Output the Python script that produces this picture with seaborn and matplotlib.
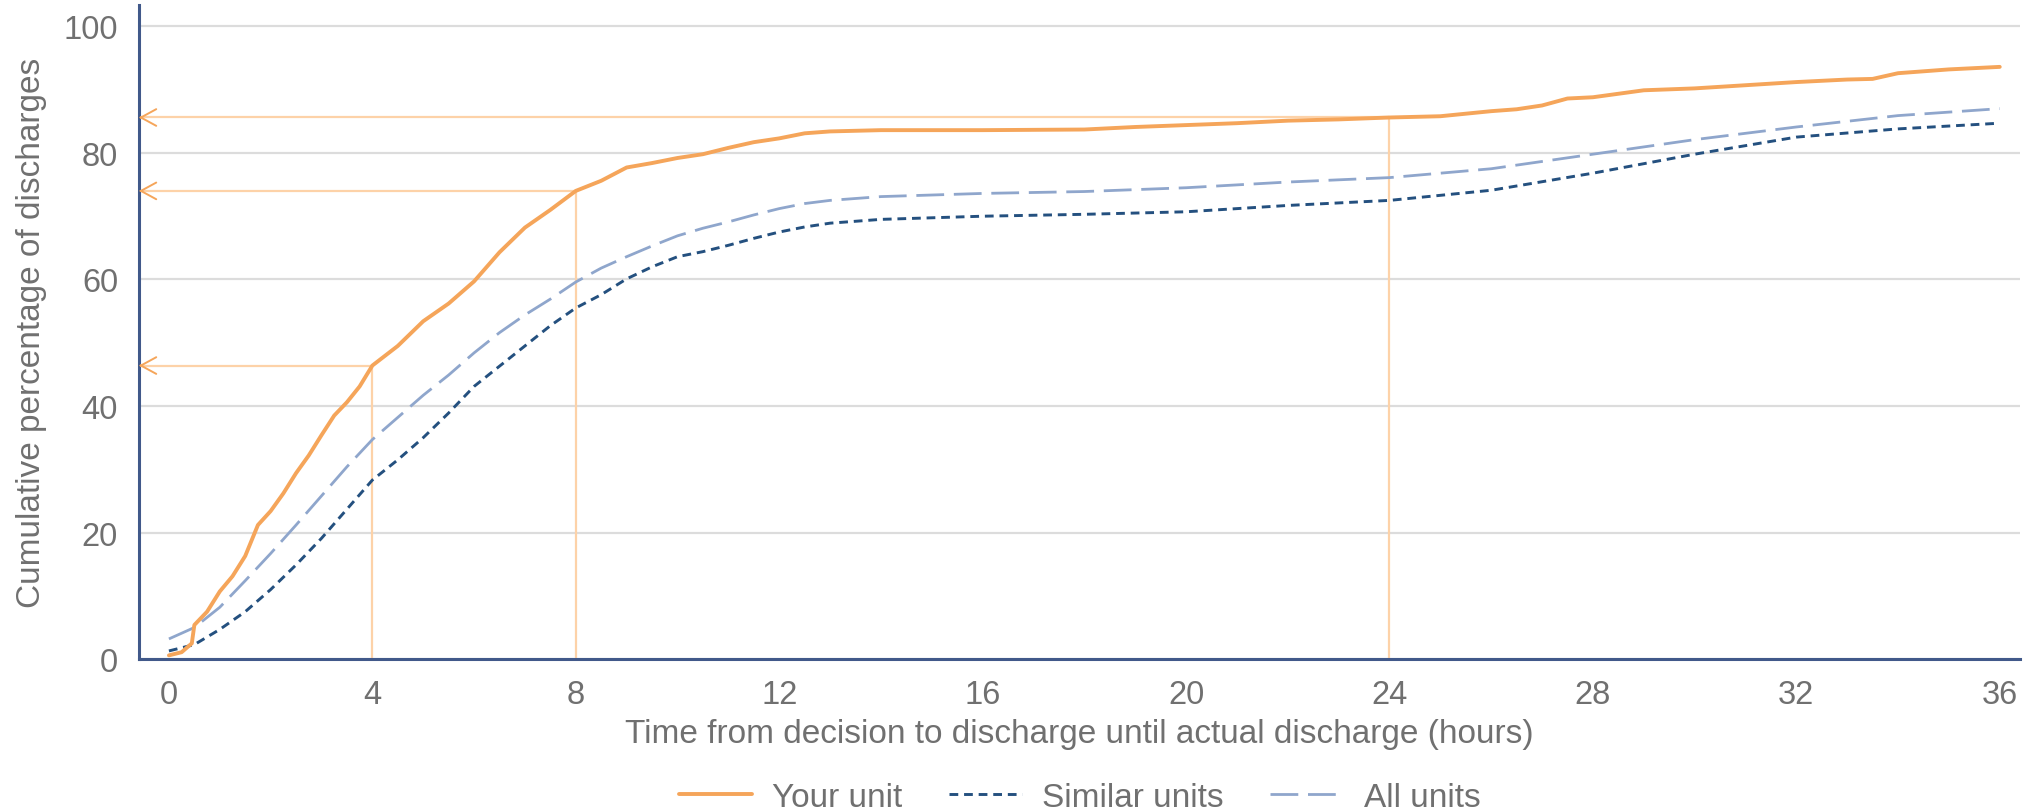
import matplotlib
matplotlib.use("Agg")
import matplotlib.pyplot as plt
import pandas as pd
import seaborn as sns

# ---- data ----
your_hours = [0, 0.25, 0.45, 0.5, 0.75, 1.0, 1.25, 1.5, 1.75, 2.0, 2.25, 2.5, 2.75, 3.0, 3.25,
              3.5, 3.75, 4.0, 4.5, 5.0, 5.5, 6.0, 6.5, 7.0, 7.5, 8.0, 8.5, 9.0, 9.5, 10,
              10.5, 11, 11.5, 12, 12.5, 13, 14, 16, 18, 19, 20, 21, 22, 23, 24,
              25, 26, 26.5, 27, 27.5, 28, 29, 30, 31, 32, 33, 33.5, 34, 35, 36]
your_pct = [0.6, 1.1, 2.5, 5.4, 7.5, 10.7, 13.1, 16.3, 21.2, 23.4, 26.2, 29.4, 32.2, 35.4, 38.5,
            40.6, 43.1, 46.4, 49.5, 53.4, 56.2, 59.7, 64.3, 68.2, 71.0, 74.0, 75.6, 77.7, 78.4, 79.2,
            79.8, 80.8, 81.7, 82.3, 83.1, 83.4, 83.6, 83.6, 83.7, 84.1, 84.4, 84.7, 85.1, 85.3, 85.6,
            85.8, 86.6, 86.9, 87.5, 88.6, 88.8, 89.9, 90.2, 90.7, 91.2, 91.6, 91.7, 92.6, 93.2, 93.6]

grid_hours = [0, 0.5, 1, 1.5, 2, 2.5, 3, 3.5, 4, 4.5, 5, 5.5, 6, 6.5, 7, 7.5, 8, 8.5, 9, 9.5,
              10, 10.5, 11, 11.5, 12, 12.5, 13, 14, 16, 18, 20, 22, 24, 26, 28, 30, 32, 34, 36]
similar_pct = [1.3, 2.3, 4.7, 7.5, 11.0, 14.9, 19.1, 23.7, 28.3, 31.5, 35.0, 38.9, 43.1, 46.3,
               49.5, 52.7, 55.5, 57.6, 60.1, 62.0, 63.6, 64.4, 65.4, 66.5, 67.5, 68.3, 68.9,
               69.5, 70.0, 70.3, 70.7, 71.7, 72.5, 74.1, 76.8, 79.8, 82.5, 83.8, 84.7]
all_pct = [3.2, 5.0, 8.2, 12.4, 16.7, 21.2, 25.8, 30.4, 34.7, 38.2, 41.7, 44.9, 48.4, 51.6,
           54.4, 56.9, 59.6, 61.8, 63.6, 65.3, 66.9, 68.1, 69.1, 70.2, 71.2, 72.0, 72.5,
           73.1, 73.6, 73.9, 74.5, 75.4, 76.1, 77.5, 79.8, 82.1, 84.1, 85.9, 87.0]

# hours highlighted with guide lines, and the share of discharges reached by then
marker_hours = [4, 8, 24]
marker_pct = [46.4, 74.0, 85.6]

x_ticks = [0, 4, 8, 12, 16, 20, 24, 28, 32, 36]
y_ticks = [0, 20, 40, 60, 80, 100]

ORANGE = "#F5A55A"
PALE_ORANGE = "#FDD2A8"
DARK_BLUE = "#24507F"
LIGHT_BLUE = "#8FA6CC"
SPINE = "#41598A"
TEXT = "#707070"
GRID = "#DCDCDC"

sns.set_theme(style="white")
plt.rcParams["font.family"] = ["Liberation Sans", "DejaVu Sans"]

fig = plt.figure(figsize=(20.37, 8.12), dpi=100)
ax_left, ax_width = 0.0682, 0.9235
ax = fig.add_axes([ax_left, 0.187, ax_width, 0.805])

xmin, xmax = -0.59, 36.4
ax.set_xlim(xmin, xmax)
ax.set_ylim(0, 103.3)

for y in y_ticks:
    ax.axhline(y, color=GRID, lw=1.6, zorder=0)

# guide lines: vertical up to the curve, then back to the y axis with an arrow
for h, p in zip(marker_hours, marker_pct):
    ax.plot([h, h], [0, p], color=PALE_ORANGE, lw=1.6, zorder=1)
    ax.plot([xmin, h], [p, p], color=PALE_ORANGE, lw=1.6, zorder=1)
    ax.annotate("", xy=(xmin, p), xytext=(xmin + 0.05, p),
                arrowprops=dict(arrowstyle="->,head_length=0.55,head_width=0.3",
                                color=ORANGE, lw=1.4, shrinkA=0, shrinkB=0,
                                mutation_scale=20))

your_df = pd.DataFrame({"hours": your_hours, "pct": your_pct})
grid_df = pd.DataFrame({"hours": grid_hours, "similar": similar_pct, "all": all_pct})

sns.lineplot(data=grid_df, x="hours", y="all", ax=ax, color=LIGHT_BLUE, lw=2.0,
             linestyle=(0, (10, 3.5)), label="All units", zorder=2)
sns.lineplot(data=grid_df, x="hours", y="similar", ax=ax, color=DARK_BLUE, lw=2.1,
             linestyle=(0, (3, 2)), label="Similar units", zorder=3)
sns.lineplot(data=your_df, x="hours", y="pct", ax=ax, color=ORANGE, lw=2.8,
             label="Your unit", zorder=4)

ax.set_xticks(x_ticks)
ax.set_yticks(y_ticks)
ax.tick_params(axis="both", colors=SPINE, labelcolor=TEXT, labelsize=23.5,
               length=9, width=1.8, direction="out")
ax.tick_params(axis="x", pad=5)
ax.tick_params(axis="y", pad=6)

for side in ["top", "right"]:
    ax.spines[side].set_visible(False)
for side in ["left", "bottom"]:
    ax.spines[side].set_color(SPINE)
    ax.spines[side].set_linewidth(2.2)

ax.set_xlabel("Time from decision to discharge until actual discharge (hours)",
              color=TEXT, fontsize=24, labelpad=6)
ax.set_ylabel("Cumulative percentage of discharges", color=TEXT, fontsize=24, labelpad=12)

handles, labels = ax.get_legend_handles_labels()
ax.get_legend().remove()
order = [labels.index(k) for k in ["Your unit", "Similar units", "All units"]]
leg = fig.legend([handles[i] for i in order], [labels[i] for i in order],
                 loc="center", bbox_to_anchor=(ax_left + ax_width / 2, 0.017), ncol=3,
                 frameon=False, fontsize=24, handlelength=2.2, columnspacing=1.4,
                 handletextpad=0.6, borderpad=0)
for t in leg.get_texts():
    t.set_color(TEXT)

fig.savefig("out.png", dpi=100)
